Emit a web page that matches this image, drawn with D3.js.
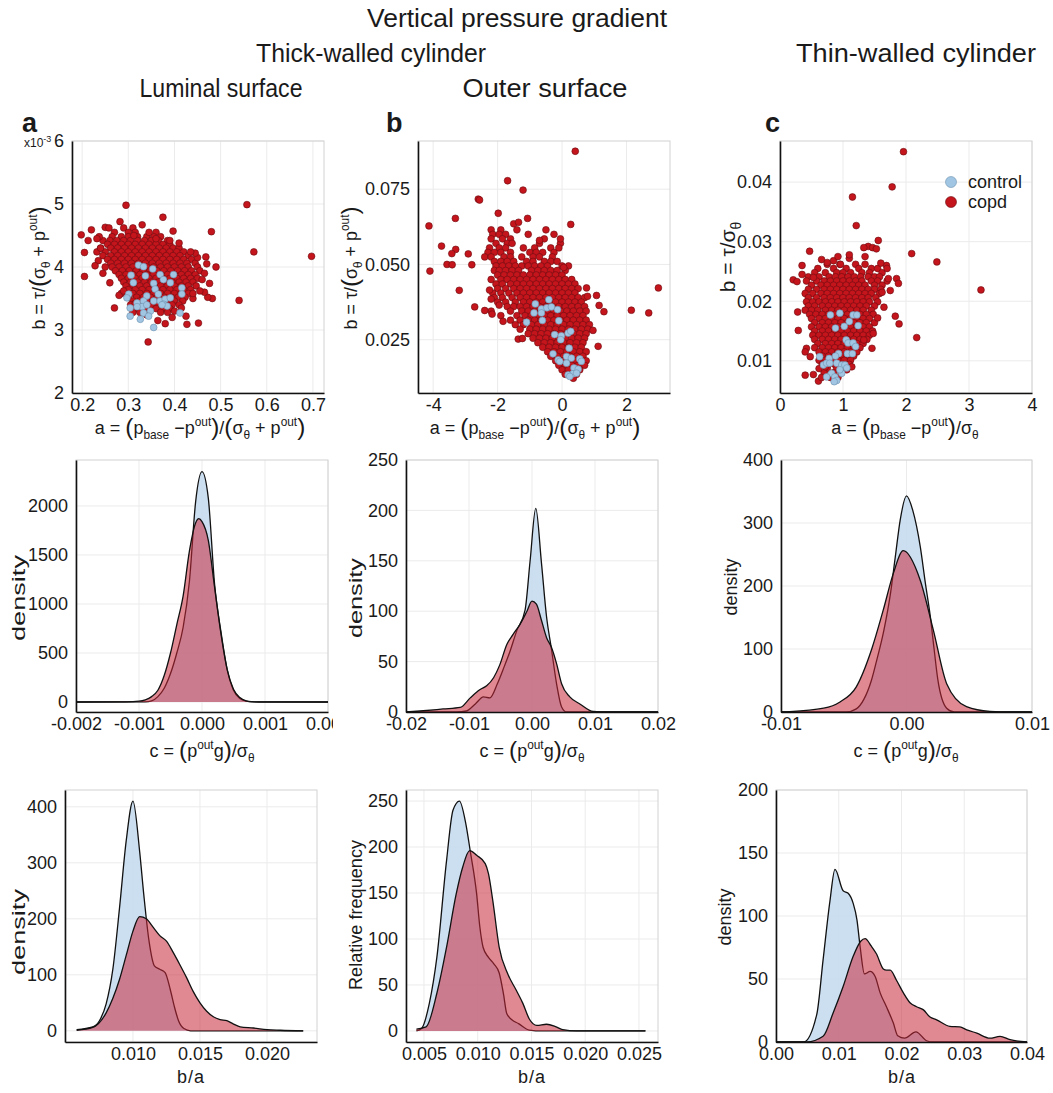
<!DOCTYPE html>
<html>
<head>
<meta charset="utf-8">
<script src="https://cdn.jsdelivr.net/npm/d3@7"></script>
<style>
  body { margin: 0; background: #fff; }
  text { font-family: "Liberation Sans", Arial, sans-serif; fill: #1a1a1a; }
</style>
</head>
<body>
<div id="chart"></div>
<script>
//========================
//   Scatter data (row 1)
//========================
// dense clouds are stored as rows: [y, [x, x, ...]]
var copdRowsA = [
  [4.62, [0.29, 0.31]],
  [4.55, [0.27, 0.30, 0.315, 0.36]],
  [4.48, [0.265, 0.285, 0.30, 0.32, 0.34, 0.355, 0.37]],
  [4.42, [0.245, 0.26, 0.275, 0.29, 0.305, 0.32, 0.335, 0.35, 0.365, 0.385]],
  [4.36, [0.255, 0.27, 0.285, 0.30, 0.315, 0.33, 0.345, 0.36, 0.375, 0.39]],
  [4.30, [0.24, 0.262, 0.277, 0.292, 0.307, 0.322, 0.337, 0.352, 0.367, 0.382, 0.397, 0.41]],
  [4.24, [0.232, 0.25, 0.27, 0.285, 0.30, 0.315, 0.33, 0.345, 0.36, 0.375, 0.39, 0.405, 0.42]],
  [4.18, [0.245, 0.262, 0.277, 0.292, 0.307, 0.322, 0.337, 0.352, 0.367, 0.382, 0.397, 0.412, 0.43]],
  [4.12, [0.255, 0.27, 0.285, 0.30, 0.315, 0.33, 0.345, 0.36, 0.375, 0.39, 0.405, 0.42, 0.437]],
  [4.06, [0.262, 0.277, 0.292, 0.307, 0.322, 0.337, 0.352, 0.367, 0.382, 0.397, 0.412, 0.427, 0.445]],
  [4.00, [0.265, 0.28, 0.295, 0.31, 0.325, 0.34, 0.355, 0.37, 0.385, 0.40, 0.415, 0.43, 0.45]],
  [3.94, [0.272, 0.287, 0.302, 0.317, 0.332, 0.347, 0.362, 0.377, 0.392, 0.407, 0.422, 0.437, 0.455]],
  [3.88, [0.28, 0.295, 0.31, 0.325, 0.34, 0.355, 0.37, 0.385, 0.40, 0.415, 0.43, 0.445]],
  [3.82, [0.285, 0.30, 0.315, 0.33, 0.345, 0.36, 0.375, 0.39, 0.405, 0.42, 0.435, 0.45]],
  [3.76, [0.29, 0.305, 0.32, 0.335, 0.35, 0.365, 0.38, 0.395, 0.41, 0.425, 0.44]],
  [3.70, [0.295, 0.31, 0.325, 0.34, 0.355, 0.37, 0.385, 0.40, 0.415, 0.43, 0.447]],
  [3.64, [0.30, 0.315, 0.33, 0.345, 0.36, 0.375, 0.39, 0.405, 0.42, 0.435]],
  [3.58, [0.285, 0.31, 0.325, 0.34, 0.355, 0.37, 0.385, 0.40, 0.415, 0.43]],
  [3.52, [0.30, 0.318, 0.333, 0.348, 0.363, 0.378, 0.393, 0.408, 0.423]],
  [3.46, [0.31, 0.325, 0.34, 0.355, 0.37, 0.385, 0.40, 0.418]],
  [3.40, [0.305, 0.32, 0.35, 0.365, 0.38, 0.395, 0.41]],
  [3.34, [0.315, 0.335, 0.36, 0.375, 0.39]],
  [3.28, [0.325, 0.37, 0.385]]
];
var copdExtraA = [
  [0.295,4.98],[0.557,4.99],[0.375,4.79],[0.33,4.67],[0.397,4.57],[0.48,4.56],[0.572,4.24],[0.697,4.17],
  [0.54,3.47],[0.343,2.81],[0.452,3.11],[0.427,3.09],[0.364,3.15],[0.38,3.10],[0.27,3.35],[0.198,4.51],
  [0.205,4.23],[0.205,3.85],[0.22,4.59],[0.237,4.48],[0.25,4.63],[0.258,4.62],[0.213,4.42],[0.49,4.0],
  [0.482,3.5],[0.472,3.52],[0.476,3.74],[0.465,3.9],[0.468,4.16],[0.45,4.15],[0.445,4.22],[0.435,4.24],
  [0.465,3.6],[0.455,3.62],[0.425,3.22],[0.44,3.5],[0.245,3.9],[0.235,4.1],[0.24,4.3],[0.26,3.75],
  [0.25,4.0],[0.31,3.28],[0.315,3.42],[0.228,4.02],[0.232,4.45],[0.282,4.72],[0.312,4.5],[0.345,4.55],
  [0.36,4.45],[0.39,4.42],[0.41,4.38],[0.47,4.05],[0.46,3.8],[0.415,3.35],[0.4,3.3],[0.395,3.2],
  [0.28,3.55],[0.29,3.62],[0.34,3.24],[0.44,3.58]
];
var ctrlA = [
  [0.322,4.03],[0.333,4.005],[0.353,3.97],[0.306,3.87],[0.337,3.86],[0.311,3.75],[0.355,3.74],[0.369,3.88],
  [0.376,3.80],[0.398,3.88],[0.391,3.75],[0.416,3.67],[0.358,3.65],[0.365,3.57],[0.301,3.57],[0.297,3.51],
  [0.319,3.43],[0.340,3.54],[0.333,3.46],[0.330,3.37],[0.340,3.40],[0.355,3.46],[0.369,3.46],[0.380,3.49],
  [0.376,3.41],[0.384,3.38],[0.391,3.51],[0.416,3.57],[0.348,3.30],[0.333,3.27],[0.344,3.22],[0.326,3.17],
  [0.304,3.22],[0.319,3.37],[0.355,3.04],[0.412,3.27],[0.373,3.40],[0.304,3.35]
];

var copdRowsB = [
  [0.0615, [-2.2, -1.9, -1.4, -0.5]],
  [0.0600, [-2.15, -1.95, -1.75, -1.05, -0.25]],
  [0.0585, [-2.2, -1.85, -1.6, -0.55]],
  [0.0570, [-2.05, -1.7, -1.55, -0.7, -0.05]],
  [0.0555, [-2.25, -1.95, -1.75, -1.2, -0.85, -0.35]],
  [0.0540, [-2.3, -2.1, -1.9, -1.6, -1.0, -0.8, -0.6, -0.25]],
  [0.0525, [-2.4, -2.2, -1.8, -1.6, -1.25, -0.9, -0.7, -0.3]],
  [0.0510, [-2.1, -1.9, -1.7, -1.5, -1.1, -0.9, -0.55, -0.35, -0.15]],
  [0.0495, [-2.05, -1.85, -1.65, -1.45, -1.25, -1.05, -0.85, -0.65, -0.45, 0.0, 0.2]],
  [0.0480, [-2.1, -1.95, -1.75, -1.55, -1.35, -0.95, -0.75, -0.55, -0.35, -0.15, 0.1]],
  [0.0465, [-2.0, -1.8, -1.6, -1.4, -1.2, -1.0, -0.8, -0.6, -0.4, -0.2, 0.0]],
  [0.0450, [-2.2, -1.9, -1.7, -1.5, -1.3, -1.1, -0.9, -0.7, -0.5, -0.3, -0.1, 0.1, 0.3]],
  [0.0435, [-2.05, -1.85, -1.6, -1.4, -1.2, -1.0, -0.8, -0.6, -0.4, -0.2, 0.0, 0.2, 0.4]],
  [0.0420, [-2.0, -1.75, -1.5, -1.3, -1.1, -0.9, -0.7, -0.5, -0.3, -0.1, 0.1, 0.3, 0.5]],
  [0.0405, [-2.15, -1.9, -1.65, -1.4, -1.2, -1.0, -0.8, -0.6, -0.4, -0.2, 0.0, 0.2, 0.4]],
  [0.0390, [-2.1, -1.85, -1.55, -1.3, -1.1, -0.9, -0.7, -0.5, -0.3, -0.1, 0.1, 0.3, 0.5, 0.7]],
  [0.0375, [-2.0, -1.75, -1.45, -1.2, -1.0, -0.8, -0.6, -0.4, -0.2, 0.0, 0.2, 0.4, 0.6]],
  [0.0360, [-1.7, -1.5, -1.3, -1.1, -0.9, -0.7, -0.5, -0.3, -0.1, 0.1, 0.3, 0.5, 0.7]],
  [0.0345, [-2.2, -1.6, -1.25, -1.05, -0.85, -0.65, -0.45, -0.25, -0.05, 0.15, 0.35, 0.55, 0.75]],
  [0.0330, [-1.9, -1.4, -1.15, -0.95, -0.75, -0.55, -0.35, -0.15, 0.05, 0.25, 0.45, 0.65]],
  [0.0315, [-1.6, -1.3, -1.05, -0.85, -0.65, -0.45, -0.25, -0.05, 0.15, 0.35, 0.55, 0.75]],
  [0.0300, [-1.45, -1.2, -0.95, -0.75, -0.55, -0.35, -0.15, 0.05, 0.25, 0.45, 0.65, 0.85]],
  [0.0285, [-1.3, -1.0, -0.8, -0.6, -0.4, -0.2, 0.0, 0.2, 0.4, 0.6, 0.8]],
  [0.0270, [-1.05, -0.85, -0.65, -0.45, -0.25, -0.05, 0.15, 0.35, 0.55, 0.75]],
  [0.0255, [-0.9, -0.7, -0.5, -0.3, -0.1, 0.1, 0.3, 0.5, 0.7]],
  [0.0240, [-0.75, -0.55, -0.35, -0.15, 0.05, 0.25, 0.45, 0.65]],
  [0.0225, [-0.6, -0.4, -0.2, 0.0, 0.2, 0.4, 0.6]],
  [0.0210, [-0.45, -0.25, -0.05, 0.15, 0.35, 0.55, 0.75]],
  [0.0195, [-0.35, -0.15, 0.05, 0.25, 0.45, 0.65]],
  [0.0180, [-0.2, 0.0, 0.2, 0.4, 0.6, 0.75]],
  [0.0165, [-0.1, 0.1, 0.3, 0.5, 0.7]],
  [0.0150, [0.0, 0.2, 0.4, 0.55]],
  [0.0135, [0.1, 0.3, 0.45]],
  [0.0122, [0.35]]
];
var copdExtraB = [
  [0.41,0.0876],[-1.69,0.0778],[-1.21,0.0747],[-2.6,0.0717],[-2.56,0.0714],[-4.13,0.0628],[-3.31,0.0653],
  [-1.98,0.067],[-1.07,0.0653],[0.27,0.0633],[-4.1,0.0478],[-3.74,0.0561],[-3.3,0.055],[-3.42,0.0536],
  [-2.91,0.0535],[-3.57,0.05],[-3.41,0.0499],[-2.8,0.0499],[-3.19,0.0414],[-2.71,0.0359],[-2.40,0.0347],
  [-2.17,0.0335],[-1.83,0.0311],[-1.36,0.0252],[-1.23,0.0254],[2.15,0.0348],[2.69,0.0339],[2.99,0.0422],
  [1.12,0.0228],[1.30,0.0343],[1.15,0.0364],[1.07,0.0397],[0.76,0.0422],[0.96,0.0281],[0.79,0.0394],
  [-1.5,0.0635],[-1.35,0.064],[-0.7,0.058],[-0.05,0.0585],[-0.1,0.0555],[0.05,0.049],[-2.25,0.0415],
  [-2.2,0.0385],[-1.95,0.0365]
];
var ctrlB = [
  [-0.83,0.0369],[-0.64,0.0352],[-0.47,0.0356],[-0.33,0.0359],[-0.41,0.0383],[-0.14,0.035],[-0.87,0.0339],
  [-1.10,0.0308],[-0.61,0.0314],[-0.10,0.0313],[-0.23,0.0267],[-0.02,0.0263],[-0.04,0.025],[0.19,0.0272],
  [0.27,0.0278],[0.22,0.0222],[-0.28,0.0203],[-0.12,0.0183],[-0.07,0.0178],[0.14,0.0194],[0.29,0.0189],
  [0.14,0.0172],[0.55,0.0186],[0.60,0.0178],[0.37,0.0156],[0.50,0.0152],[0.34,0.0137],[0.19,0.0133],
  [0.24,0.0128],[0.45,0.0139],[-0.64,0.0339]
];

var copdRowsC = [
  [0.0262, [0.75, 0.95, 1.2, 1.35]],
  [0.0255, [0.6, 0.85, 1.05, 1.25, 1.45, 1.55]],
  [0.0248, [0.55, 0.72, 0.9, 1.0, 1.12, 1.3, 1.42, 1.62]],
  [0.0241, [0.45, 0.62, 0.78, 0.88, 0.98, 1.08, 1.18, 1.28, 1.4, 1.5, 1.58]],
  [0.0234, [0.42, 0.58, 0.7, 0.8, 0.9, 1.0, 1.1, 1.2, 1.3, 1.45, 1.55, 1.7]],
  [0.0227, [0.5, 0.65, 0.75, 0.85, 0.95, 1.05, 1.15, 1.25, 1.35, 1.5, 1.62]],
  [0.0220, [0.45, 0.58, 0.7, 0.8, 0.9, 1.0, 1.1, 1.2, 1.3, 1.4, 1.5, 1.6]],
  [0.0213, [0.4, 0.52, 0.65, 0.75, 0.85, 0.95, 1.05, 1.15, 1.25, 1.35, 1.45, 1.58]],
  [0.0206, [0.45, 0.58, 0.7, 0.8, 0.9, 1.0, 1.1, 1.2, 1.3, 1.4, 1.52]],
  [0.0199, [0.42, 0.52, 0.62, 0.72, 0.82, 0.92, 1.02, 1.12, 1.22, 1.32, 1.42, 1.55]],
  [0.0192, [0.45, 0.55, 0.67, 0.77, 0.87, 0.97, 1.07, 1.17, 1.27, 1.37, 1.5]],
  [0.0185, [0.4, 0.5, 0.6, 0.72, 0.82, 0.92, 1.02, 1.12, 1.22, 1.32, 1.45]],
  [0.0178, [0.47, 0.57, 0.67, 0.77, 0.87, 0.97, 1.07, 1.17, 1.27, 1.37, 1.48]],
  [0.0171, [0.5, 0.62, 0.72, 0.82, 0.92, 1.02, 1.12, 1.22, 1.32, 1.42]],
  [0.0164, [0.55, 0.67, 0.77, 0.87, 0.97, 1.07, 1.17, 1.27, 1.37, 1.5]],
  [0.0157, [0.5, 0.62, 0.72, 0.82, 0.92, 1.02, 1.12, 1.22, 1.32, 1.42]],
  [0.0150, [0.55, 0.67, 0.77, 0.87, 0.97, 1.07, 1.17, 1.27, 1.37, 1.47]],
  [0.0143, [0.52, 0.62, 0.72, 0.82, 0.92, 1.02, 1.12, 1.22, 1.32, 1.42]],
  [0.0136, [0.55, 0.67, 0.77, 0.87, 0.97, 1.07, 1.17, 1.27, 1.38]],
  [0.0129, [0.6, 0.72, 0.82, 0.92, 1.02, 1.12, 1.22, 1.32]],
  [0.0122, [0.55, 0.67, 0.77, 0.87, 0.97, 1.07, 1.17, 1.27]],
  [0.0115, [0.62, 0.72, 0.82, 0.92, 1.02, 1.12, 1.22]],
  [0.0108, [0.67, 0.77, 0.87, 0.97, 1.07, 1.17]],
  [0.0101, [0.62, 0.72, 0.82, 0.92, 1.02, 1.12]],
  [0.0094, [0.67, 0.77, 0.87, 1.0, 1.1]],
  [0.0087, [0.62, 0.75, 0.9, 1.05]],
  [0.0080, [0.7, 0.85, 0.97]],
  [0.0072, [0.8, 0.92]]
];
var copdExtraC = [
  [1.96,0.0451],[1.78,0.0392],[1.15,0.0375],[1.21,0.0327],[0.47,0.0284],[2.09,0.028],[2.49,0.0266],
  [3.19,0.0219],[2.17,0.0139],[1.56,0.0302],[1.4,0.0292],[1.47,0.029],[1.33,0.029],[1.53,0.0288],
  [1.69,0.026],[1.72,0.0238],[1.85,0.0238],[1.75,0.0218],[1.88,0.023],[1.89,0.0162],[1.83,0.0175],
  [0.21,0.0236],[0.27,0.0233],[0.35,0.0245],[0.35,0.026],[0.29,0.0151],[0.28,0.0182],[0.53,0.024],
  [0.66,0.027],[0.85,0.0268],[0.96,0.0262],[1.10,0.0272],[1.10,0.0278],[0.61,0.0066],[0.53,0.0077],
  [0.40,0.0076],[0.66,0.0072],[0.72,0.009],[1.06,0.0085],[1.14,0.009],[0.42,0.0121],[0.40,0.0115],
  [0.48,0.0107],[1.46,0.0121],[1.48,0.0146],[1.33,0.0135],[1.6,0.0264],[1.65,0.019],[1.55,0.0172],
  [1.62,0.0215],[1.7,0.0255],[1.35,0.0275],[0.92,0.0275],[0.75,0.0265]
];
var ctrlC = [
  [0.80,0.0177],[0.95,0.0180],[1.16,0.0177],[1.22,0.0177],[0.88,0.0155],[1.02,0.0158],[1.10,0.0166],
  [1.24,0.0159],[1.05,0.0135],[1.08,0.0130],[1.16,0.0130],[1.20,0.0124],[1.07,0.0112],[1.15,0.0112],
  [0.93,0.0112],[0.88,0.0108],[0.78,0.0104],[0.63,0.0107],[0.69,0.0093],[0.74,0.0096],[0.79,0.0096],
  [0.90,0.0096],[0.98,0.0093],[1.03,0.0093],[0.82,0.0079],[0.87,0.0073],[0.74,0.0073],[0.90,0.0067],
  [0.86,0.0065],[0.98,0.0079],[0.95,0.0085],[1.06,0.0088]
];

//========================
//   Density data (rows 2, 3)
//========================
var ctrlX2a = [-0.002, -0.0009, -0.0008, -0.0007, -0.0006, -0.0005, -0.0004, -0.0003, -0.0002, -0.0001, 0, 0.0001, 0.0002, 0.0003, 0.0004, 0.0005, 0.0006, 0.0007, 0.0008, 0.002];
var ctrlY2a = [0, 2, 12, 55, 140, 290, 500, 760, 1230, 2050, 2350, 2080, 1200, 720, 330, 120, 35, 8, 1, 0];
var copdX2a = [-0.002, -0.0012, -0.001, -0.0009, -0.0008, -0.0007, -0.0006, -0.0005, -0.0004, -0.0003, -0.0002, -0.0001, -0.00005, 0, 0.0001, 0.0002, 0.0003, 0.0004, 0.0005, 0.0006, 0.0007, 0.0008, 0.0009, 0.002];
var copdY2a = [0, 2, 8, 22, 55, 120, 270, 500, 790, 1080, 1540, 1830, 1870, 1840, 1650, 1170, 700, 330, 130, 45, 12, 3, 0, 0];

var ctrlX2b = [-0.02, -0.012, -0.0104, -0.009, -0.0077, -0.0067, -0.0055, -0.0046, -0.0035, -0.0024, -0.0011, -0.0003, 0.0006, 0.0015, 0.0023, 0.0031, 0.0039, 0.0047, 0.0055, 0.02];
var ctrlY2b = [0, 0, 1, 8, 15, 14, 28, 42, 60, 81, 101, 150, 202, 148, 95, 62, 28, 5, 0, 0];
var copdX2b = [-0.02, -0.0178, -0.0141, -0.0114, -0.0098, -0.0083, -0.0072, -0.0061, -0.0051, -0.004, -0.003, -0.0019, -0.0008, 0.0, 0.0007, 0.0015, 0.0023, 0.0031, 0.0039, 0.0047, 0.006, 0.0076, 0.0097, 0.012, 0.02];
var copdY2b = [0, 1, 3, 4.5, 14, 22, 26, 34, 47, 67, 77, 87, 100, 110, 107, 91, 74, 64, 48, 28, 15, 8, 0.5, 0, 0];

var ctrlX2c = [-0.01, -0.0048, -0.004, -0.0034, -0.0028, -0.0024, -0.0018, -0.0013, -0.0009, -0.0005, 0.0, 0.0005, 0.0011, 0.0015, 0.0019, 0.0022, 0.0025, 0.0032, 0.0038, 0.01];
var ctrlY2c = [0, 0, 5, 20, 50, 80, 130, 185, 245, 305, 343, 320, 262, 205, 151, 100, 51, 6, 0, 0];
var copdX2c = [-0.01, -0.0093, -0.0066, -0.0053, -0.004, -0.00277, -0.00185, -0.00105, -0.00026, 0.00108, 0.00214, 0.0032, 0.00478, 0.00665, 0.0083, 0.01];
var copdY2c = [0, 0.5, 6, 16, 40, 100, 162, 220, 256, 210, 130, 45, 8.5, 1, 0, 0];

var ctrlX3a = [0.0058, 0.007, 0.0075, 0.008, 0.0085, 0.009, 0.0095, 0.0100, 0.0105, 0.0108, 0.0112, 0.0116, 0.012, 0.0124, 0.0128, 0.0131, 0.0134, 0.0138, 0.0143, 0.0227];
var ctrlY3a = [2, 7, 18, 48, 110, 220, 340, 410, 320, 245, 160, 116, 110, 104, 72, 42, 18, 4, 0, 0];
var copdX3a = [0.0058, 0.007, 0.008, 0.0085, 0.009, 0.0095, 0.010, 0.0105, 0.011, 0.0115, 0.012, 0.0125, 0.013, 0.0135, 0.014, 0.0145, 0.015, 0.0155, 0.016, 0.0165, 0.017, 0.0175, 0.018, 0.019, 0.020, 0.021, 0.0227];
var copdY3a = [1, 6, 32, 58, 92, 135, 178, 204, 200, 185, 170, 160, 140, 118, 95, 70, 50, 35, 25, 20, 18, 12, 7, 5, 2, 1, 0];

var ctrlX3b = [0.0043, 0.0048, 0.0055, 0.0062, 0.0071, 0.0077, 0.0083, 0.0089, 0.0093, 0.0099, 0.0102, 0.0105, 0.011, 0.0115, 0.012, 0.0124, 0.0127, 0.0132, 0.0138, 0.0148, 0.016, 0.0256];
var ctrlY3b = [0, 3, 30, 80, 185, 240, 250, 225, 196, 149, 113, 91, 80, 73, 63, 40, 19, 12, 8, 1, 0, 0];
var copdX3b = [0.0043, 0.0052, 0.0062, 0.0071, 0.008, 0.0086, 0.00925, 0.0099, 0.0107, 0.011, 0.0114, 0.012, 0.0128, 0.0136, 0.0142, 0.0148, 0.0155, 0.0164, 0.0173, 0.0179, 0.0192, 0.0256];
var copdY3b = [2, 4.4, 41, 91, 149, 178, 196, 191, 182, 171, 142, 91, 62, 44, 30, 13, 6, 7.3, 4.4, 1.5, 0, 0];

var ctrlX3c = [0.0, 0.0044, 0.0065, 0.0075, 0.0086, 0.0094, 0.0107, 0.0115, 0.0123, 0.0129, 0.0134, 0.0141, 0.015, 0.0158, 0.0166, 0.0176, 0.0187, 0.0194, 0.0205, 0.0223, 0.024, 0.025, 0.04];
var ctrlY3c = [0, 0, 22, 65, 112, 137, 120, 118, 110, 97, 76, 54, 56, 52, 39, 28, 15, 5, 3, 8, 1, 0, 0];
var copdX3c = [0.0, 0.0049, 0.0075, 0.0091, 0.0107, 0.0123, 0.0135, 0.0142, 0.0152, 0.016, 0.0171, 0.0176, 0.0182, 0.0192, 0.0203, 0.0214, 0.0224, 0.0235, 0.0245, 0.0256, 0.0277, 0.0293, 0.0304, 0.032, 0.0341, 0.0357, 0.0373, 0.04];
var copdY3c = [0, 0, 4.5, 23, 44, 68, 80, 82, 76, 70, 58, 57, 57, 49, 39, 31, 28, 25.5, 20, 17.6, 12.4, 12, 9.7, 7, 3, 4.5, 1.8, 0];

//========================
//   Labels
//========================
var legendLabels = ["control", "copd"];
var titles = ["Vertical pressure gradient", "Thick-walled cylinder", "Thin-walled cylinder", "Luminal surface", "Outer surface"];

//========================
//   Setup
//========================
var W = 1053, H = 1093;
var TICK = 18;
var narrow = "'Liberation Sans Narrow', 'Liberation Sans', Arial, sans-serif";
var copdFill = "#c4141c", copdStroke = "#6a0d10";
var ctrlFill = "#a0c6e3", ctrlStroke = "#6f92ae";

var svg = d3.select("#chart").append("svg").attr("width", W).attr("height", H);
svg.append("rect").attr("width", W).attr("height", H).attr("fill", "#fff");
var defs = svg.append("defs");

function fmt(spec) {
  var f = d3.format(spec);
  return function(d) { return f(d).replace("\u2212", "-"); };
}

function rowsToPoints(rows) {
  return rows.flatMap(function(r) { return r[1].map(function(x) { return [x, r[0]]; }); });
}

//Builds an empty panel with grid, frame and axes
function makePanel(o) {
  var w = o.w || 252, h = o.h || 252;
  var g = svg.append("g").attr("transform", "translate(" + o.left + "," + o.top + ")");
  var x = d3.scaleLinear().domain(o.xd).range([0, w]);
  var y = d3.scaleLinear().domain(o.yd).range([h, 0]);

  g.append("g").selectAll("line").data(o.xt).join("line")
    .attr("x1", function(d) { return x(d); }).attr("x2", function(d) { return x(d); })
    .attr("y1", 0).attr("y2", h).attr("stroke", "#ebebeb");
  g.append("g").selectAll("line").data(o.yt).join("line")
    .attr("y1", function(d) { return y(d); }).attr("y2", function(d) { return y(d); })
    .attr("x1", 0).attr("x2", w).attr("stroke", "#ebebeb");
  g.append("rect").attr("width", w).attr("height", h).attr("fill", "none").attr("stroke", "#d2d2d2");

  var content = g.append("g");

  var xa = g.append("g").attr("transform", "translate(0," + h + ")")
    .call(d3.axisBottom(x).tickValues(o.xt).tickFormat(fmt(o.xf)).tickSize(0).tickPadding(5));
  var ya = g.append("g")
    .call(d3.axisLeft(y).tickValues(o.yt).tickFormat(fmt(o.yf)).tickSize(0).tickPadding(8));
  [xa, ya].forEach(function(a) {
    a.select(".domain").attr("stroke", "#111").attr("stroke-width", 1.6);
    a.selectAll("text").attr("font-size", TICK).attr("fill", "#1a1a1a")
      .style("font-family", "'Liberation Sans', Arial, sans-serif");
  });
  return { g: g, content: content, x: x, y: y, w: w, h: h, xa: xa };
}

function drawDots(p, pts, fill, stroke) {
  p.content.append("g").selectAll("circle").data(pts).join("circle")
    .attr("cx", function(d) { return p.x(d[0]); })
    .attr("cy", function(d) { return p.y(d[1]); })
    .attr("r", 3.4).attr("fill", fill).attr("stroke", stroke).attr("stroke-width", 0.6);
}

function drawDensity(p, xs, ys, fill, opacity) {
  var data = xs.map(function(v, i) { return [v, ys[i]]; });
  var area = d3.area().x(function(d) { return p.x(d[0]); }).y0(p.y(0))
    .y1(function(d) { return p.y(d[1]); }).curve(d3.curveMonotoneX);
  var line = d3.line().x(function(d) { return p.x(d[0]); })
    .y(function(d) { return p.y(d[1]); }).curve(d3.curveMonotoneX);
  p.content.append("path").datum(data).attr("d", area).attr("fill", fill).attr("fill-opacity", opacity);
  p.content.append("path").datum(data).attr("d", line).attr("fill", "none")
    .attr("stroke", "#111").attr("stroke-width", 1.3);
}

//Math label built from tspans: kind "" normal, "sub", "sup", "big"
function mathLabel(x, y, parts, size, rotate, len, family) {
  var t = svg.append("text").attr("text-anchor", "middle").attr("font-size", size)
    .attr("transform", "translate(" + x + "," + y + ")" + (rotate ? " rotate(-90)" : ""));
  if (family) t.style("font-family", family);
  var shift = 0;
  parts.forEach(function(p) {
    var target = p[1] === "sub" ? size * 0.3 : p[1] === "sup" ? -size * 0.42 : p[1] === "big" ? size * 0.08 : 0;
    var fs = (p[1] === "sub" || p[1] === "sup") ? size * 0.66 : p[1] === "big" ? size * 1.35 : size;
    t.append("tspan").attr("dy", target - shift).attr("font-size", fs).text(p[0]);
    shift = target;
  });
  if (len) t.attr("textLength", len).attr("lengthAdjust", "spacingAndGlyphs");
  return t;
}

function rotLabel(x, y, s, len, family) {
  var t = svg.append("text").attr("transform", "translate(" + x + "," + y + ") rotate(-90)")
    .attr("text-anchor", "middle").attr("font-size", 18).text(s);
  if (family) t.style("font-family", family);
  if (len) t.attr("textLength", len).attr("lengthAdjust", "spacingAndGlyphs");
  return t;
}

//========================
//   Titles
//========================
var titlePos = [[517, 27, 300], [371, 62, 230], [916, 62, 240], [221, 97, 163], [545, 97, 165]];
titles.forEach(function(s, i) {
  svg.append("text").attr("x", titlePos[i][0]).attr("y", titlePos[i][1])
    .attr("text-anchor", "middle").attr("font-size", 25).style("font-family", narrow)
    .attr("textLength", titlePos[i][2]).attr("lengthAdjust", "spacingAndGlyphs")
    .text(s);
});
[["a", 22], ["b", 386], ["c", 765]].forEach(function(d) {
  svg.append("text").attr("x", d[1]).attr("y", 132).attr("font-size", 27)
    .attr("font-weight", "bold").text(d[0]);
});

//========================
//   Row 1: scatter plots
//========================
var p1a = makePanel({ left: 72, top: 141, xd: [0.178, 0.724], yd: [2, 6],
  xt: [0.2, 0.3, 0.4, 0.5, 0.6, 0.7], yt: [2, 3, 4, 5, 6], xf: ".1f", yf: "d" });
drawDots(p1a, rowsToPoints(copdRowsA).concat(copdExtraA), copdFill, copdStroke);
drawDots(p1a, ctrlA, ctrlFill, ctrlStroke);
var sci = svg.append("text").attr("x", 24).attr("y", 147).attr("font-size", 12);
sci.append("tspan").text("x10");
sci.append("tspan").attr("dy", -5).attr("font-size", 9).text("-3");

var p1b = makePanel({ left: 418, top: 141, xd: [-4.47, 3.35], yd: [0.0073, 0.091],
  xt: [-4, -2, 0, 2], yt: [0.025, 0.05, 0.075], xf: "d", yf: ".3f" });
drawDots(p1b, rowsToPoints(copdRowsB).concat(copdExtraB), copdFill, copdStroke);
drawDots(p1b, ctrlB, ctrlFill, ctrlStroke);

var p1c = makePanel({ left: 780, top: 141, xd: [0, 4], yd: [0.0046, 0.0469],
  xt: [0, 1, 2, 3, 4], yt: [0.01, 0.02, 0.03, 0.04], xf: "d", yf: ".2f" });
drawDots(p1c, rowsToPoints(copdRowsC).concat(copdExtraC), copdFill, copdStroke);
drawDots(p1c, ctrlC, ctrlFill, ctrlStroke);

//legend
var leg = svg.append("g").attr("transform", "translate(951,182)");
legendLabels.forEach(function(s, i) {
  leg.append("circle").attr("cx", 0).attr("cy", i * 20).attr("r", 5.5)
    .attr("fill", i === 0 ? ctrlFill : copdFill).attr("stroke", i === 0 ? ctrlStroke : copdStroke).attr("stroke-width", 0.6);
  leg.append("text").attr("x", 17).attr("y", i * 20).attr("dy", "0.35em").attr("font-size", 18).text(s);
});

var labAthick = [["a = ", ""], ["(", "big"], ["p", ""], ["base", "sub"], [" \u2212p", ""], ["out", "sup"], [")", "big"],
  ["/", ""], ["(", "big"], ["\u03c3", ""], ["\u03b8", "sub"], [" + p", ""], ["out", "sup"], [")", "big"]];
var labAthin = [["a = ", ""], ["(", "big"], ["p", ""], ["base", "sub"], [" \u2212p", ""], ["out", "sup"], [")", "big"],
  ["/\u03c3", ""], ["\u03b8", "sub"]];
var labBthick = [["b = \u03c4/", ""], ["(", "big"], ["\u03c3", ""], ["\u03b8", "sub"], [" + p", ""], ["out", "sup"], [")", "big"]];
var labBthin = [["b = \u03c4/\u03c3", ""], ["\u03b8", "sub"]];
var labC = [["c = ", ""], ["(", "big"], ["p", ""], ["out", "sup"], ["g", ""], [")", "big"], ["/\u03c3", ""], ["\u03b8", "sub"]];

mathLabel(200, 434, labAthick, 18);
mathLabel(535, 434, labAthick, 18);
mathLabel(905, 434, labAthin, 18);
mathLabel(45, 268, labBthick, 18, true, 123, narrow);
mathLabel(357, 268, labBthick, 18, true, 123, narrow);
mathLabel(735, 257, labBthin, 21, true);

//========================
//   Row 2: density of c
//========================
var p2a = makePanel({ left: 76, top: 460, xd: [-0.002, 0.002], yd: [-102, 2469],
  xt: [-0.002, -0.001, 0, 0.001, 0.002], yt: [0, 500, 1000, 1500, 2000], xf: ".3f", yf: "d" });
drawDensity(p2a, ctrlX2a, ctrlY2a, "#c6dcef", 0.9);
drawDensity(p2a, copdX2a, copdY2a, "#c8283a", 0.55);
defs.append("clipPath").attr("id", "clip2a").append("rect")
  .attr("x", -100).attr("y", -5).attr("width", 357).attr("height", 40);
p2a.xa.attr("clip-path", "url(#clip2a)");

var p2b = makePanel({ left: 406, top: 460, xd: [-0.02, 0.02], yd: [0, 250],
  xt: [-0.02, -0.01, 0, 0.01, 0.02], yt: [0, 50, 100, 150, 200, 250], xf: ".2f", yf: "d" });
drawDensity(p2b, ctrlX2b, ctrlY2b, "#c6dcef", 0.9);
drawDensity(p2b, copdX2b, copdY2b, "#c8283a", 0.55);

var p2c = makePanel({ left: 781, top: 460, w: 251, xd: [-0.01, 0.01], yd: [0, 400],
  xt: [-0.01, 0, 0.01], yt: [0, 100, 200, 300, 400], xf: ".2f", yf: "d" });
drawDensity(p2c, ctrlX2c, ctrlY2c, "#c6dcef", 0.9);
drawDensity(p2c, copdX2c, copdY2c, "#c8283a", 0.55);

mathLabel(202, 757, labC, 18);
mathLabel(532, 757, labC, 18);
mathLabel(906, 757, labC, 18);
rotLabel(25, 598, "density", 86, narrow);
rotLabel(362, 598, "density", 80, narrow);
rotLabel(737, 587, "density");

//========================
//   Row 3: density of b/a
//========================
var p3a = makePanel({ left: 65, top: 790, xd: [0.00493, 0.02373], yd: [-20, 430],
  xt: [0.010, 0.015, 0.020], yt: [0, 100, 200, 300, 400], xf: ".3f", yf: "d" });
drawDensity(p3a, ctrlX3a, ctrlY3a, "#c6dcef", 0.9);
drawDensity(p3a, copdX3a, copdY3a, "#c8283a", 0.55);

var p3b = makePanel({ left: 406, top: 790, xd: [0.00333, 0.02677], yd: [-12, 262],
  xt: [0.005, 0.010, 0.015, 0.020, 0.025], yt: [0, 50, 100, 150, 200, 250], xf: ".3f", yf: "d" });
drawDensity(p3b, ctrlX3b, ctrlY3b, "#c6dcef", 0.9);
drawDensity(p3b, copdX3b, copdY3b, "#c8283a", 0.55);

var p3c = makePanel({ left: 776, top: 790, w: 251, xd: [0, 0.04], yd: [0, 200],
  xt: [0, 0.01, 0.02, 0.03, 0.04], yt: [0, 50, 100, 150, 200], xf: ".2f", yf: "d" });
drawDensity(p3c, ctrlX3c, ctrlY3c, "#c6dcef", 0.9);
drawDensity(p3c, copdX3c, copdY3c, "#c8283a", 0.55);

[[191, 1083], [532, 1083], [902, 1083]].forEach(function(d) {
  svg.append("text").attr("x", d[0]).attr("y", d[1]).attr("text-anchor", "middle")
    .attr("font-size", 18).attr("letter-spacing", 1).text("b/a");
});
rotLabel(25, 932, "density", 86, narrow);
rotLabel(362, 915, "Relative frequency", 150, narrow);
rotLabel(731, 917, "density");
</script>
</body>
</html>
